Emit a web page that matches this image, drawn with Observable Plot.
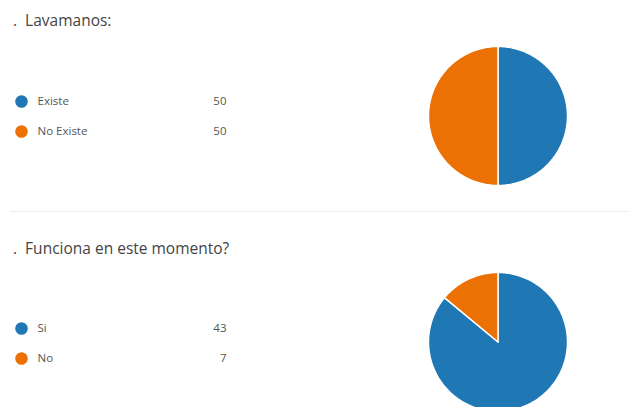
<!DOCTYPE html>
<html>
<head>
<meta charset="utf-8">
<script src="https://cdn.jsdelivr.net/npm/d3@7"></script>
<script src="https://cdn.jsdelivr.net/npm/@observablehq/plot@0.6"></script>
<style>
  html, body { margin: 0; padding: 0; background: #fff; }
  body { width: 628px; height: 407px; overflow: hidden; position: relative; font-family: "Open Sans", sans-serif; }
  .title { position: absolute; left: 13px; font-size: 15.5px; color: #444; white-space: pre; line-height: 1; }
  .abs { position: absolute; }
  .sep { position: absolute; left: 10px; right: 0; top: 211px; height: 1px; background: #ececec; }
</style>
</head>
<body>
<script>
const titles = [".  Lavamanos:", ".  Funciona en este momento?"];
const lavCats = ["Existe", "No Existe"];
const lavVals = [50, 50];
const funCats = ["Si", "No"];
const funVals = [43, 7];
const sliceColors = ["#1f77b4", "#ec7105"];

function slices(cats, vals) {
  const arcs = d3.pie().sort(null)(vals);
  return arcs.flatMap((a, i) => {
    const n = Math.max(2, Math.ceil((a.endAngle - a.startAngle) / 0.02));
    const pts = [{cat: cats[i], x: 0, y: 0}];
    for (let k = 0; k <= n; k++) {
      const t = a.startAngle + (a.endAngle - a.startAngle) * k / n;
      pts.push({cat: cats[i], x: Math.sin(t), y: Math.cos(t)});
    }
    pts.push({cat: cats[i], x: 0, y: 0});
    return pts;
  });
}

function pie(cats, vals) {
  return Plot.plot({
    width: 141, height: 141, margin: 1,
    x: {domain: [-1, 1], axis: null},
    y: {domain: [-1, 1], axis: null},
    color: {domain: cats, range: sliceColors},
    marks: [
      Plot.line(slices(cats, vals), {x: "x", y: "y", z: "cat", fill: "cat", stroke: "white", strokeWidth: 1.5, strokeLinejoin: "round"})
    ]
  });
}

function legend(cats, vals) {
  const rows = cats.map((c, i) => ({cat: c, val: vals[i]}));
  return Plot.plot({
    width: 240, height: 60, margin: 0,
    style: {fontFamily: "Open Sans, sans-serif"},
    x: {axis: null},
    y: {type: "point", domain: cats, range: [15, 45], padding: 0, axis: null},
    color: {domain: cats, range: sliceColors},
    marks: [
      Plot.dot(rows, {y: "cat", fill: "cat", r: 6.3, frameAnchor: "left", dx: 21}),
      Plot.text(rows, {y: "cat", text: "cat", frameAnchor: "left", dx: 37, textAnchor: "start", fontSize: 11.5, fill: "#555"}),
      Plot.text(rows, {y: "cat", text: d => String(d.val), frameAnchor: "right", dx: -14, textAnchor: "end", fontSize: 11.5, fill: "#555"})
    ]
  });
}

function place(node, left, top) {
  const d = document.createElement("div");
  d.className = "abs";
  d.style.left = left + "px";
  d.style.top = top + "px";
  d.appendChild(node);
  document.body.appendChild(d);
}

function title(text, top) {
  const t = document.createElement("div");
  t.className = "title";
  t.style.top = top + "px";
  t.textContent = text;
  document.body.appendChild(t);
}

title(titles[0], 13);
place(legend(lavCats, lavVals), 0, 86);
place(pie(lavCats, lavVals), 427, 45);

const sep = document.createElement("div");
sep.className = "sep";
document.body.appendChild(sep);

title(titles[1], 241);
place(legend(funCats, funVals), 0, 313);
place(pie(funCats, funVals), 427, 271);
</script>
</body>
</html>
